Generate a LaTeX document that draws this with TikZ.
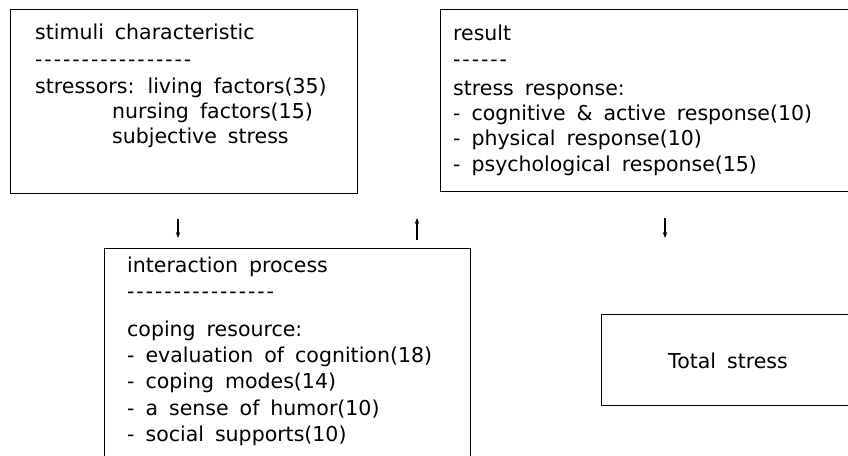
\documentclass[tikz,border=0pt]{standalone}
\usepackage{fontspec}
\setmainfont{DejaVu Sans}
\usetikzlibrary{arrows.meta}
\newcommand\hy{-\kern1.9pt}
\newcommand\txtfont{\fontsize{20.5}{25}\selectfont\spaceskip 11pt plus 1pt\relax}
\begin{document}
\begin{tikzpicture}[x=1pt,y=-1pt,
  boxshape/.style={draw=black,line width=1.2pt,rectangle,inner sep=0pt,anchor=north west},
  txt/.style={anchor=base west,inner sep=0pt,font=\txtfont},
  arr/.style={line width=1.1pt,-{Stealth[length=6pt,width=4.5pt]}}]
\useasboundingbox (0,0) rectangle (848,455);
\clip (0,0) rectangle (848,455);
\fill[white] (0,0) rectangle (848,455);
% boxes
\node[boxshape,minimum width=347pt,minimum height=184pt] (b1) at (10,9) {};
\node[boxshape,minimum width=430pt,minimum height=181.5pt] (b2) at (440,9) {};
\node[boxshape,minimum width=365.5pt,minimum height=230pt] (b3) at (104,248) {};
\node[boxshape,minimum width=270pt,minimum height=91pt] (b4) at (601,314) {};
% box 1 text
\node[txt] (t11) at (35,39) {stimuli characteristic};
\node[txt] (t12) at (35,66) {\hy\hy\hy\hy\hy\hy\hy\hy\hy\hy\hy\hy\hy\hy\hy\hy\hy};
\node[txt] (t13) at (35,93) {stressors: living factors(35)};
\node[txt] (t14) at (112,118) {nursing factors(15)};
\node[txt] (t15) at (112,143) {subjective stress};
% box 2 text
\node[txt] (t21) at (453,40) {result};
\node[txt] (t22) at (453,66) {\hy\hy\hy\hy\hy\hy};
\node[txt] (t23) at (453,95) {stress response:};
\node[txt] (t24) at (453,120) {- cognitive \& active response(10)};
\node[txt] (t25) at (453,145.5) {- physical response(10)};
\node[txt] (t26) at (453,171) {- psychological response(15)};
% box 3 text
\node[txt] (t31) at (127,272) {interaction process};
\node[txt] (t32) at (127,298) {\hy\hy\hy\hy\hy\hy\hy\hy\hy\hy\hy\hy\hy\hy\hy\hy};
\node[txt] (t33) at (127,336) {coping resource:};
\node[txt] (t34) at (127,362) {- evaluation of cognition(18)};
\node[txt] (t35) at (127,388.5) {- coping modes(14)};
\node[txt] (t36) at (127,415) {- a sense of humor(10)};
\node[txt] (t37) at (127,441.5) {- social supports(10)};
% box 4 text
\node[inner sep=0pt,font=\txtfont] (t41) at (728,361) {Total stress};
% arrows
\coordinate (a1s) at (178,219);
\coordinate (a1e) at (178,238);
\coordinate (a2s) at (417,240);
\coordinate (a2e) at (417,218);
\coordinate (a3s) at (665,218);
\coordinate (a3e) at (665,238);
\draw[arr] (a1s) -- (a1e);
\draw[arr] (a2s) -- (a2e);
\draw[arr] (a3s) -- (a3e);
\end{tikzpicture}
\end{document}
